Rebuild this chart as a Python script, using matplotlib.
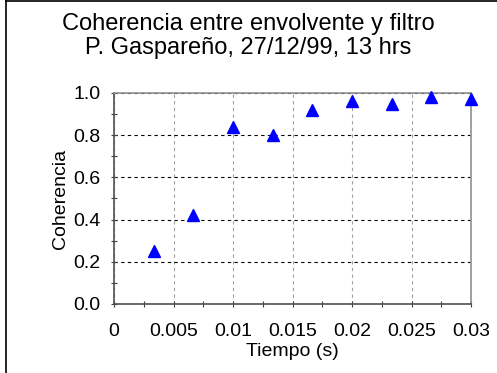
import numpy as np
import matplotlib
matplotlib.use("Agg")
import matplotlib.pyplot as plt
from matplotlib.ticker import MultipleLocator, FuncFormatter
from matplotlib.lines import Line2D

plt.rcParams['font.family'] = ['Liberation Sans', 'DejaVu Sans']

# datos
tiempo = [0.00333, 0.00667, 0.01, 0.01333, 0.01667, 0.02, 0.02333, 0.02667, 0.03]
coherencia = [0.25, 0.42, 0.84, 0.80, 0.92, 0.96, 0.95, 0.98, 0.97]

titulo = "Coherencia entre envolvente y filtro\nP. Gaspareño, 27/12/99, 13 hrs"

fig = plt.figure(figsize=(4.97, 3.73), dpi=100)
ax = fig.add_axes([114/497, 1 - 304/373, (471 - 114)/497, (304 - 93)/373])

ax.plot(tiempo, coherencia, linestyle='none', marker='^', color='#0000ff',
        markersize=8.5, clip_on=False, zorder=5)

ax.set_xlim(0, 0.03)
ax.set_ylim(0, 1.0)
ax.xaxis.set_major_locator(MultipleLocator(0.005))
ax.xaxis.set_minor_locator(MultipleLocator(0.0025))
ax.yaxis.set_major_locator(MultipleLocator(0.2))
ax.yaxis.set_minor_locator(MultipleLocator(0.1))
ax.xaxis.set_major_formatter(FuncFormatter(lambda v, p: "0" if v == 0 else ("%g" % round(v, 4))))
ax.yaxis.set_major_formatter(FuncFormatter(lambda v, p: "%.1f" % v))

ax.grid(axis='x', which='major', color='#a0a0a0', linestyle=(0, (3, 3)), linewidth=0.8)
ax.grid(axis='y', which='major', color='#000000', linestyle=(0, (3, 3)), linewidth=0.8)

for s in ['left', 'bottom']:
    ax.spines[s].set_color('#505050')
for s in ['top', 'right']:
    ax.spines[s].set_color('#909090')
for s in ax.spines.values():
    s.set_linewidth(1.2)

ax.tick_params(which='both', direction='inout', color='#404040', labelsize=14, width=0.8)
ax.tick_params(which='major', length=5)
ax.tick_params(which='minor', length=5)
ax.tick_params(axis='x', which='major', pad=11)
ax.tick_params(axis='y', which='major', pad=7)

ax.set_xlabel("Tiempo (s)", fontsize=14, labelpad=2.5)
ax.set_ylabel("Coherencia", fontsize=14, labelpad=3)

fig.text(0.5, 1 - 36/373, titulo, ha='center', va='center', fontsize=17, linespacing=1.17)

# marco de la figura
fig.add_artist(Line2D([6/497, 6/497], [0, 1], color='black', linewidth=1.2))
fig.add_artist(Line2D([6/497, 1], [1 - 1/373, 1 - 1/373], color='black', linewidth=1.2))

fig.savefig("out.png", dpi=100)
